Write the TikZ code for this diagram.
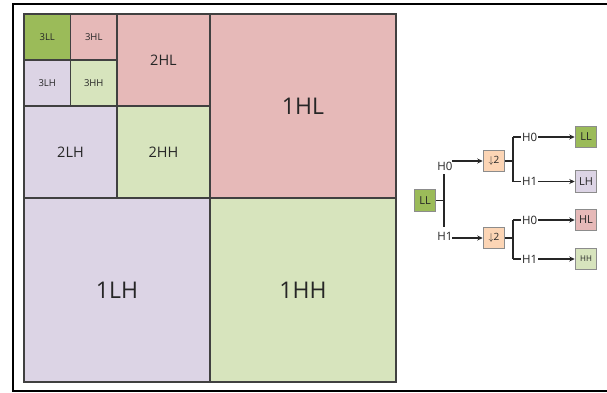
\documentclass[tikz,border=0pt]{standalone}
\usepackage{fontspec}
\setmainfont{Open Sans}
\usetikzlibrary{arrows.meta}
\definecolor{cdg}{HTML}{9BBB59}
\definecolor{cpk}{HTML}{E6B9B8}
\definecolor{clv}{HTML}{DCD4E5}
\definecolor{clg}{HTML}{D7E4BD}
\definecolor{cpe}{HTML}{FCD5B5}
\definecolor{ctx}{HTML}{262626}
\definecolor{cln}{HTML}{404040}
\begin{document}
\begin{tikzpicture}[x=1pt,y=-1pt,
  cell/.style={draw=cln, line width=1.1pt, inner sep=0pt, text=ctx},
  big/.style={font=\fontsize{23}{23}\selectfont},
  mid/.style={font=\fontsize{14.5}{14.5}\selectfont},
  sml/.style={font=\fontsize{9.5}{9.5}\selectfont},
  tbox/.style={draw=black!45, line width=1pt, minimum width=21.5pt, minimum height=21.5pt, inner sep=0pt, text=ctx, font=\fontsize{11}{11}\selectfont},
  lab/.style={inner sep=0.8pt, fill=white, text=ctx, font=\fontsize{11.5}{11.5}\selectfont},
  wire/.style={draw=ctx, line width=1.1pt},
  arr/.style={wire, -{Stealth[length=5.5pt,width=5pt]}}]
\useasboundingbox (0,0) rectangle (607,393);
% outer frame
\draw[line width=2pt] (608,4) -- (13,4) -- (13,391) -- (608,391);
% level 1
\node[cell, big, fill=cpk, minimum width=186pt, minimum height=184pt] (c1hl) at (303,106) {1HL};
\node[cell, big, fill=clv, minimum width=186pt, minimum height=184pt] (c1lh) at (117,290) {1LH};
\node[cell, big, fill=clg, minimum width=186pt, minimum height=184pt] (c1hh) at (303,290) {1HH};
% level 2
\node[cell, mid, fill=cpk, minimum width=93pt, minimum height=92pt] (c2hl) at (163.5,60) {2HL};
\node[cell, mid, fill=clv, minimum width=93pt, minimum height=92pt] (c2lh) at (70.5,152) {2LH};
\node[cell, mid, fill=clg, minimum width=93pt, minimum height=92pt] (c2hh) at (163.5,152) {2HH};
% level 3
\node[cell, sml, fill=cdg, minimum width=46.5pt, minimum height=46pt] (c3ll) at (47.25,37) {3LL};
\node[cell, sml, fill=cpk, minimum width=46.5pt, minimum height=46pt] (c3hl) at (93.75,37) {3HL};
\node[cell, sml, fill=clv, minimum width=46.5pt, minimum height=46pt] (c3lh) at (47.25,83) {3LH};
\node[cell, sml, fill=clg, minimum width=46.5pt, minimum height=46pt] (c3hh) at (93.75,83) {3HH};
% tree
\node[tbox, fill=cdg] (r) at (425,200.5) {LL};
\node[tbox, fill=cpe, font=\fontsize{10}{10}\selectfont] (d1) at (494,161) {$\downarrow$2};
\node[tbox, fill=cpe, font=\fontsize{10}{10}\selectfont] (d2) at (494,238) {$\downarrow$2};
\node[tbox, fill=cdg] (o1) at (586,137) {LL};
\node[tbox, fill=clv] (o2) at (586,181.5) {LH};
\node[tbox, fill=cpk] (o3) at (586,220) {HL};
\node[tbox, fill=clg, font=\fontsize{8}{8}\selectfont] (o4) at (586,259) {HH};
\coordinate (rb) at (444,200.5);
\coordinate (rt) at (444,174);
\coordinate (rd) at (444,227);
\node[lab] (h0) at (445,166) {H0};
\node[lab] (h1) at (445,236) {H1};
\coordinate (a0) at (452,161);
\coordinate (a1) at (452,238);
\draw[wire] (r.east) -- (rb);
\draw[wire] (rt) -- (rd);
\draw[arr] (a0) -- (d1.west);
\draw[arr] (a1) -- (d2.west);
% branch 1
\coordinate (b1) at (513,161);
\coordinate (b1t) at (513,137);
\coordinate (b1b) at (513,181.5);
\draw[wire] (d1.east) -- (b1);
\draw[wire] (b1t) -- (b1b);
\draw[arr] (b1t) -- (o1.west) node[lab, pos=0.27] (l1) {H0};
\draw[arr] (b1b) -- (o2.west) node[lab, pos=0.27] (l2) {H1};
% branch 2
\coordinate (b2) at (513,238);
\coordinate (b2t) at (513,220);
\coordinate (b2b) at (513,259);
\draw[wire] (d2.east) -- (b2);
\draw[wire] (b2t) -- (b2b);
\draw[arr] (b2t) -- (o3.west) node[lab, pos=0.27] (l3) {H0};
\draw[arr] (b2b) -- (o4.west) node[lab, pos=0.27] (l4) {H1};
\end{tikzpicture}
\end{document}
